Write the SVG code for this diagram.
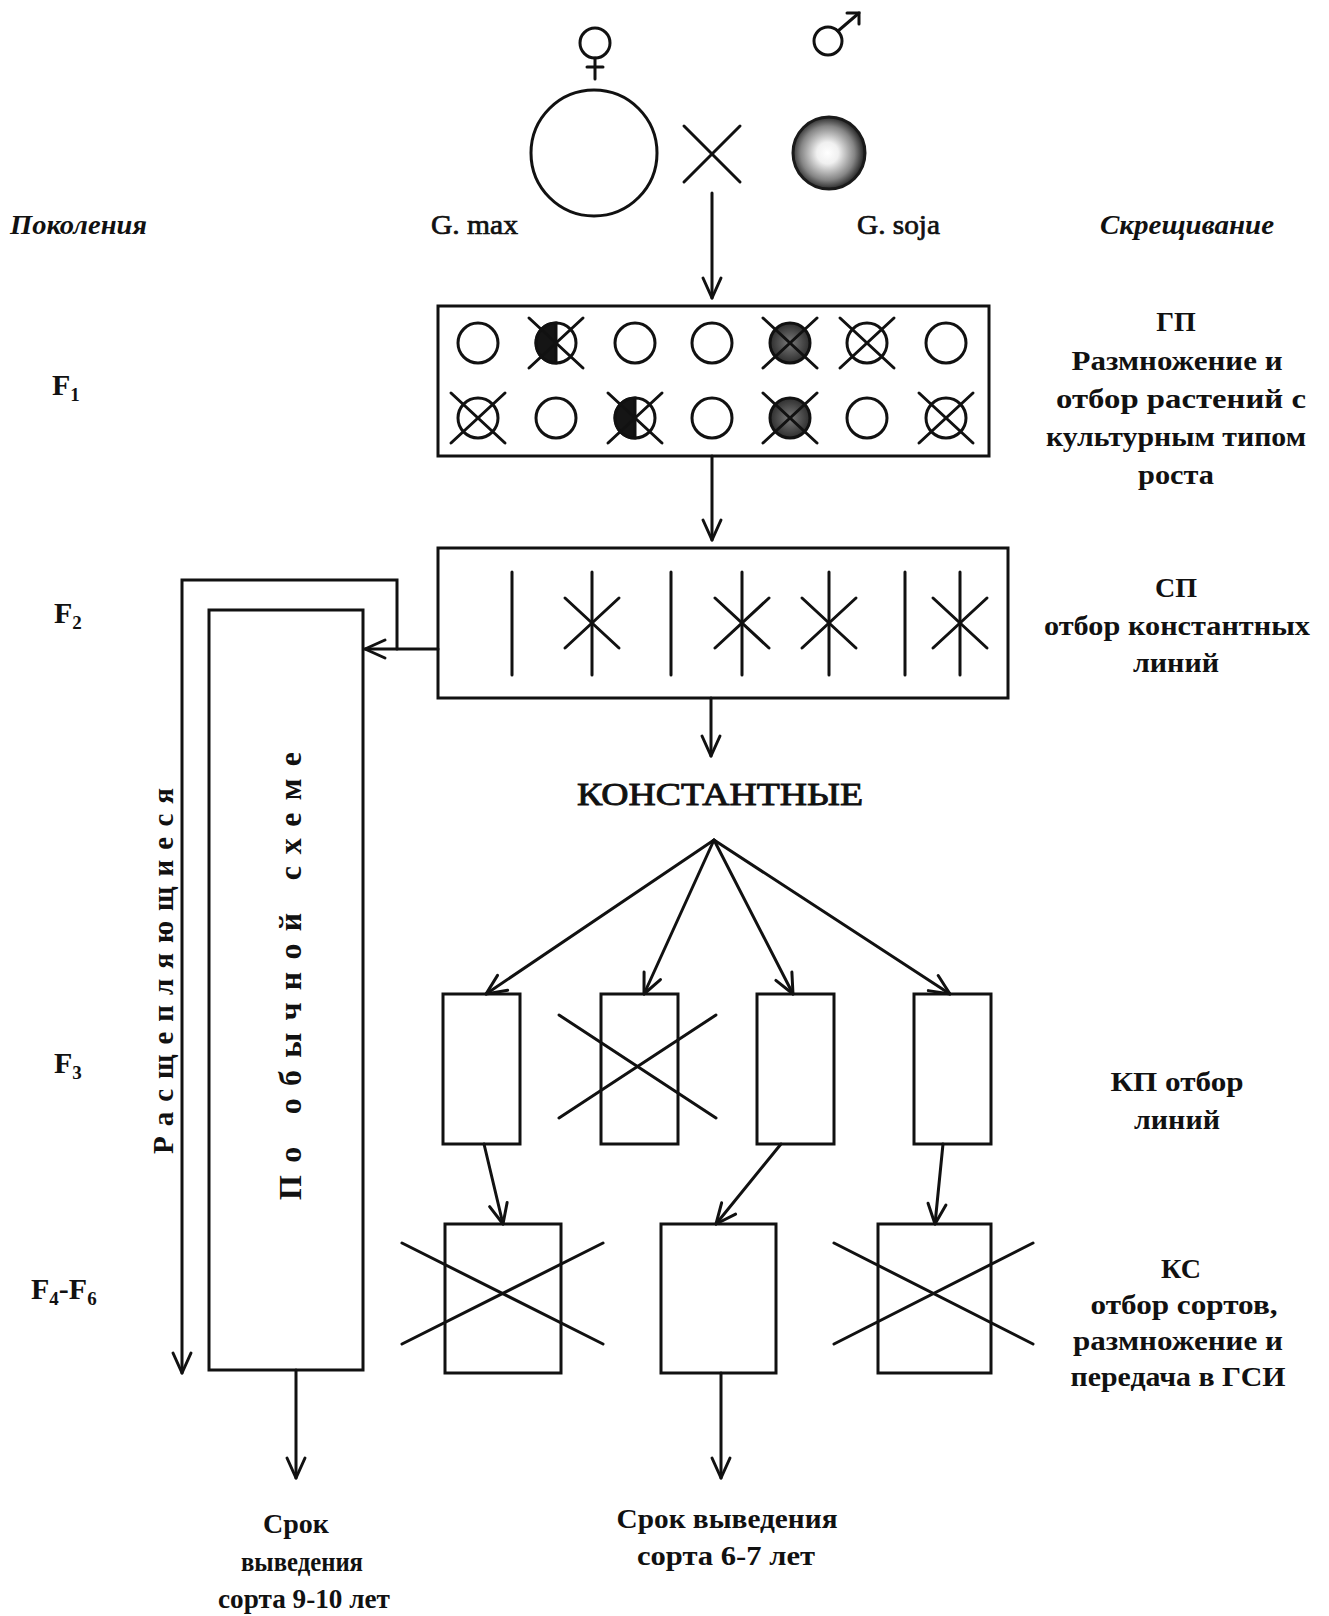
<svg xmlns="http://www.w3.org/2000/svg" width="1329" height="1616" viewBox="0 0 1329 1616">
<defs>
<style>
.ln{stroke:#111;stroke-width:3;fill:none;stroke-linecap:round}
.bx{stroke:#111;stroke-width:3;fill:#fff}
.t{font-family:"Liberation Serif","DejaVu Serif",serif;font-weight:bold;font-size:28px;fill:#111;text-anchor:middle}
.ts{font-family:"Liberation Serif","DejaVu Serif",serif;font-weight:bold;font-size:30px;fill:#111}
.tn{font-family:"Liberation Serif","DejaVu Serif",serif;font-size:28px;fill:#111;stroke:#111;stroke-width:0.7}
.ti{font-family:"Liberation Serif","DejaVu Serif",serif;font-weight:bold;font-style:italic;font-size:28px;fill:#111}
.sub{font-size:19px}
</style>
<marker id="ah" viewBox="-23 -12 26 24" refX="0" refY="0" markerWidth="26" markerHeight="24" markerUnits="userSpaceOnUse" orient="auto">
<path d="M-20,-9 L0,0 L-20,9" fill="none" stroke="#111" stroke-width="3" stroke-linecap="round" stroke-linejoin="round"/>
</marker>
<radialGradient id="soja" cx="0.48" cy="0.5" r="0.5">
<stop offset="0" stop-color="#ffffff"/><stop offset="0.3" stop-color="#f0f0f0"/><stop offset="0.75" stop-color="#858585"/><stop offset="1" stop-color="#2b2b2b"/>
</radialGradient>
<radialGradient id="dk" cx="0.5" cy="0.5" r="0.5">
<stop offset="0" stop-color="#7a7a7a"/><stop offset="1" stop-color="#2e2e2e"/>
</radialGradient>
<g id="oc"><circle r="20" fill="#fff" stroke="#111" stroke-width="3"/></g>
<g id="xs" stroke="#111" stroke-width="3" stroke-linecap="round"><line x1="-27" y1="-25" x2="27" y2="25"/><line x1="-27" y1="25" x2="27" y2="-25"/></g>
<g id="ocx"><circle r="20" fill="#fff" stroke="#111" stroke-width="3"/><use href="#xs"/></g>
<g id="dkx"><circle r="20" fill="url(#dk)" stroke="#111" stroke-width="3"/><use href="#xs"/></g>
<g id="hfx"><circle r="20" fill="#fff" stroke="#111" stroke-width="3"/><path d="M0,-20 A20,20 0 0 0 0,20 Z" fill="#151515" stroke="#111" stroke-width="3"/><use href="#xs"/></g>
<g id="vl"><line x1="0" y1="-51" x2="0" y2="52" stroke="#111" stroke-width="3" stroke-linecap="round"/></g>
<g id="vlx"><use href="#vl"/><line x1="-27" y1="-25" x2="27" y2="25" stroke="#111" stroke-width="3" stroke-linecap="round"/><line x1="-27" y1="25" x2="27" y2="-25" stroke="#111" stroke-width="3" stroke-linecap="round"/></g>
</defs>
<rect width="1329" height="1616" fill="#fff"/>

<!-- column labels -->
<g id="labels-top">
<text class="ti" x="10" y="234" textLength="137" lengthAdjust="spacingAndGlyphs">Поколения</text>
<text class="tn" x="431" y="234" textLength="87" lengthAdjust="spacingAndGlyphs">G. max</text>
<text class="tn" x="857" y="234" textLength="83" lengthAdjust="spacingAndGlyphs">G. soja</text>
<text class="ti" x="1100" y="234" textLength="174" lengthAdjust="spacingAndGlyphs">Скрещивание</text>
</g>

<g id="generations">
<text class="ts" x="52" y="395">F<tspan class="sub" dy="6">1</tspan></text>
<text class="ts" x="54" y="623">F<tspan class="sub" dy="6">2</tspan></text>
<text class="ts" x="54" y="1073">F<tspan class="sub" dy="6">3</tspan></text>
<text class="ts" x="31" y="1299">F<tspan class="sub" dy="6">4</tspan><tspan dy="-6">-F</tspan><tspan class="sub" dy="6">6</tspan></text>
</g>

<!-- parents -->
<g id="female">
<circle cx="595" cy="43" r="15" fill="none" stroke="#111" stroke-width="3"/>
<line class="ln" x1="595" y1="58" x2="595" y2="79"/>
<line class="ln" x1="587" y1="67" x2="603" y2="67"/>
<circle cx="594" cy="153" r="63" fill="#fff" stroke="#111" stroke-width="3"/>
</g>
<g id="cross">
<line class="ln" x1="684" y1="126" x2="740" y2="182"/>
<line class="ln" x1="684" y1="182" x2="740" y2="126"/>
</g>
<g id="male">
<circle cx="828" cy="41" r="14" fill="none" stroke="#111" stroke-width="3"/>
<line class="ln" x1="838" y1="31" x2="859" y2="13"/>
<polyline class="ln" points="847,13 859,13 859,24"/>
<circle cx="829" cy="153" r="36" fill="url(#soja)" stroke="#1a1a1a" stroke-width="3"/>
</g>

<!-- GP box -->
<g id="gp">
<rect class="bx" x="438" y="306" width="551" height="150"/>
<use href="#oc" x="478" y="343"/>
<use href="#hfx" x="556" y="343"/>
<use href="#oc" x="635" y="343"/>
<use href="#oc" x="712" y="343"/>
<use href="#dkx" x="790" y="343"/>
<use href="#ocx" x="867" y="343"/>
<use href="#oc" x="946" y="343"/>
<use href="#ocx" x="478" y="418"/>
<use href="#oc" x="556" y="418"/>
<use href="#hfx" x="635" y="418"/>
<use href="#oc" x="712" y="418"/>
<use href="#dkx" x="790" y="418"/>
<use href="#oc" x="867" y="418"/>
<use href="#ocx" x="946" y="418"/>
</g>

<!-- SP box -->
<g id="sp">
<rect class="bx" x="438" y="548" width="570" height="150"/>
<use href="#vl" x="512" y="623"/>
<use href="#vlx" x="592" y="623"/>
<use href="#vl" x="671" y="623"/>
<use href="#vlx" x="742" y="623"/>
<use href="#vlx" x="829" y="623"/>
<use href="#vl" x="905" y="623"/>
<use href="#vlx" x="960" y="623"/>
</g>

<!-- usual scheme box -->
<g id="usual">
<rect class="bx" x="209" y="610" width="154" height="760"/>
<text class="t" transform="translate(301,976) rotate(-90)" style="font-size:32px" textLength="448" lengthAdjust="spacing">По обычной схеме</text>
</g>
<g id="split-label">
<text class="t" transform="translate(173,971) rotate(-90)" style="font-size:29px" textLength="366" lengthAdjust="spacing">Расщепляющиеся</text>
</g>

<g id="const-label">
<text class="tn" x="720" y="805" style="font-size:32px;text-anchor:middle;stroke-width:0.9" textLength="286" lengthAdjust="spacingAndGlyphs">КОНСТАНТНЫЕ</text>
</g>

<!-- KP boxes -->
<g id="kp1"><rect class="bx" x="443" y="994" width="77" height="150"/></g>
<g id="kp2"><rect class="bx" x="601" y="994" width="77" height="150"/>
<line class="ln" x1="559" y1="1015" x2="716" y2="1118"/><line class="ln" x1="559" y1="1118" x2="716" y2="1015"/></g>
<g id="kp3"><rect class="bx" x="757" y="994" width="77" height="150"/></g>
<g id="kp4"><rect class="bx" x="914" y="994" width="77" height="150"/></g>

<!-- KS boxes -->
<g id="ks1"><rect class="bx" x="445" y="1224" width="116" height="149"/>
<line class="ln" x1="402" y1="1243" x2="603" y2="1344"/><line class="ln" x1="402" y1="1344" x2="603" y2="1243"/></g>
<g id="ks2"><rect class="bx" x="661" y="1224" width="115" height="149"/></g>
<g id="ks3"><rect class="bx" x="878" y="1224" width="113" height="149"/>
<line class="ln" x1="834" y1="1243" x2="1033" y2="1344"/><line class="ln" x1="834" y1="1344" x2="1033" y2="1243"/></g>

<!-- connectors -->
<g id="connectors" class="ln" stroke="#111" stroke-width="3" fill="none">
<line x1="712" y1="193" x2="712" y2="298" marker-end="url(#ah)"/>
<line x1="712" y1="456" x2="712" y2="540" marker-end="url(#ah)"/>
<line x1="438" y1="649" x2="365" y2="649" marker-end="url(#ah)"/>
<polyline points="397,649 397,580 182,580 182,1373" marker-end="url(#ah)"/>
<line x1="711" y1="698" x2="711" y2="756" marker-end="url(#ah)"/>
<line x1="714" y1="840" x2="486" y2="994" marker-end="url(#ah)"/>
<line x1="714" y1="840" x2="644" y2="994" marker-end="url(#ah)"/>
<line x1="714" y1="840" x2="793" y2="994" marker-end="url(#ah)"/>
<line x1="714" y1="840" x2="950" y2="994" marker-end="url(#ah)"/>
<line x1="484" y1="1144" x2="503" y2="1224" marker-end="url(#ah)"/>
<line x1="781" y1="1144" x2="716" y2="1224" marker-end="url(#ah)"/>
<line x1="943" y1="1144" x2="935" y2="1224" marker-end="url(#ah)"/>
<line x1="296" y1="1370" x2="296" y2="1478" marker-end="url(#ah)"/>
<line x1="721" y1="1373" x2="721" y2="1478" marker-end="url(#ah)"/>
</g>

<!-- right labels -->
<g id="lbl-gp">
<text class="t" x="1176" y="331">ГП</text>
<text class="t" x="1177" y="370" textLength="211" lengthAdjust="spacingAndGlyphs">Размножение и</text>
<text class="t" x="1181" y="408" textLength="250" lengthAdjust="spacingAndGlyphs">отбор растений с</text>
<text class="t" x="1176" y="446" textLength="260" lengthAdjust="spacingAndGlyphs">культурным типом</text>
<text class="t" x="1176" y="484" textLength="76" lengthAdjust="spacingAndGlyphs">роста</text>
</g>
<g id="lbl-sp">
<text class="t" x="1176" y="597">СП</text>
<text class="t" x="1177" y="635" textLength="266" lengthAdjust="spacingAndGlyphs">отбор константных</text>
<text class="t" x="1176" y="672" textLength="86" lengthAdjust="spacingAndGlyphs">линий</text>
</g>
<g id="lbl-kp">
<text class="t" x="1177" y="1091" textLength="133" lengthAdjust="spacingAndGlyphs">КП отбор</text>
<text class="t" x="1177" y="1129" textLength="86" lengthAdjust="spacingAndGlyphs">линий</text>
</g>
<g id="lbl-ks">
<text class="t" x="1181" y="1278">КС</text>
<text class="t" x="1184" y="1314" textLength="187" lengthAdjust="spacingAndGlyphs">отбор сортов,</text>
<text class="t" x="1178" y="1350" textLength="210" lengthAdjust="spacingAndGlyphs">размножение и</text>
<text class="t" x="1178" y="1386" textLength="215" lengthAdjust="spacingAndGlyphs">передача в ГСИ</text>
</g>

<!-- bottom labels -->
<g id="lbl-left-term">
<text class="t" x="296" y="1533">Срок</text>
<text class="t" x="302" y="1571" textLength="122" lengthAdjust="spacingAndGlyphs">выведения</text>
<text class="t" x="304" y="1608" textLength="172" lengthAdjust="spacingAndGlyphs">сорта 9-10 лет</text>
</g>
<g id="lbl-mid-term">
<text class="t" x="727" y="1528" textLength="221" lengthAdjust="spacingAndGlyphs">Срок выведения</text>
<text class="t" x="726" y="1565" textLength="178" lengthAdjust="spacingAndGlyphs">сорта 6-7 лет</text>
</g>
</svg>
